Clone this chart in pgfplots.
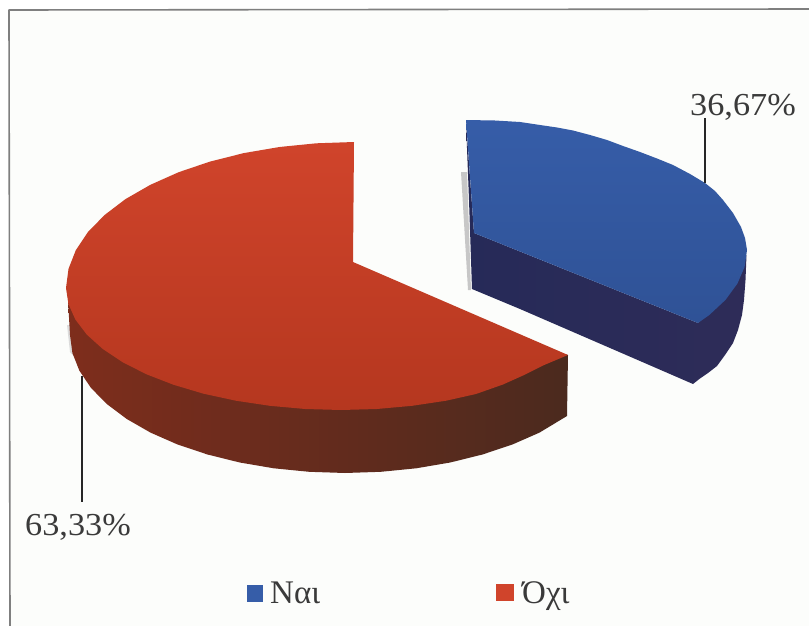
\documentclass[border=0pt]{standalone}
\usepackage{pgfplots}
\pgfplotsset{compat=1.18}
\usepackage{fontspec}
\setmainfont{Liberation Serif}
\definecolor{bgc}{HTML}{FCFDFB}
\definecolor{bord}{HTML}{7F7F7F}
\definecolor{redtopA}{HTML}{D0442B}
\definecolor{redtopB}{HTML}{B5371F}
\definecolor{redsideA}{HTML}{7E2D1C}
\definecolor{redsideB}{HTML}{4B2A1E}
\definecolor{bluetopA}{HTML}{365DA8}
\definecolor{bluetopB}{HTML}{2F5296}
\definecolor{bluesideA}{HTML}{262A58}
\definecolor{bluesideB}{HTML}{2E2C58}
\definecolor{txt}{HTML}{3A3A3A}
\begin{document}
\begin{tikzpicture}
\begin{axis}[
  hide axis, scale only axis, width=809pt, height=626pt,
  xmin=0, xmax=809, ymin=0, ymax=626, y dir=reverse, clip=true,
  every axis plot/.append style={line join=round}
]
% background and frame
\addplot[draw=none, fill=white, forget plot] coordinates {(0,0)(809,0)(809,626)(0,626)} --cycle;
\addplot[draw=none, fill=bgc, forget plot] coordinates {(9,10)(809,10)(809,626)(9,626)} --cycle;
\addplot[draw=bord, line width=1.6pt, forget plot] coordinates {(10,626)(9,10)(809,9)};
% soft shadows
\addplot[draw=none, fill=black!22!white, forget plot] coordinates {(461,172)(467,172)(471,290)(468,290)} --cycle;
\addplot[draw=none, fill=black!14!white, forget plot] coordinates {(67,325)(71,325)(76,358)(70,352)} --cycle;
% blue side
\addplot[draw=none, left color=bluesideA, right color=bluesideB, forget plot] coordinates {
(466,122)(469,200)(472,289)(520,309)(580,335)(640,361)(693,384)(700,378.5)(708,373)(717,366)(725,355)(733,343)(738,330)(742,315)(744,300)(745.5,280)(746.5,255)(698,323)(474,233)} --cycle;
% blue top
\addplot[draw=none, top color=bluetopA, bottom color=bluetopB, forget plot] coordinates {
(466,120)(495,120.5)(520,122)(540,125)(557,127.5)(573,130.5)(590,135)(607,140)(623,146)(640,152)(657,158.5)(673,165)(690,174)(705,183)(715,191)(723,200)(733,213)(741,227)(745,238)(747,250)(744.6,267)(737.4,283.6)(725.6,299.8)(709.3,315)(698,323)(474,233)} --cycle;
% red side
\addplot[draw=none, left color=redsideA, right color=redsideB, forget plot] coordinates {
(68,300)(70,335)(72.4,353)(79.4,370.7)(90.9,387.8)(106.8,404)(126.8,419)(150.5,432.6)(177.6,444.5)(207.5,454.5)(239.8,462.5)(273.8,468.3)(309.1,471.8)(345,473)(380.9,471.8)(416.2,468.3)(450.2,462.5)(482.5,454.5)(512.4,444.5)(539.5,432.6)(567,416)(568,355)(341,300)} --cycle;
% red top
\addplot[draw=none, top color=redtopA, bottom color=redtopB, forget plot] coordinates {
(354,142)(316.4,143.3)(279.5,147)(243.8,153.1)(210,161.6)(178.7,172.2)(150.4,184.8)(125.5,199.1)(104.6,215)(87.9,232.1)(75.8,250.2)(68.5,268.9)(66,288)(68.4,303.9)(75.4,319.6)(86.9,334.7)(102.8,349)(122.8,362.3)(146.5,374.3)(173.6,384.8)(203.5,393.7)(235.8,400.7)(269.8,405.8)(305.1,409)(341,410)(376.9,409)(412.2,405.8)(446.2,400.7)(476,394)(503,384.5)(523,375.5)(543,365.5)(568,355)(353,262)} --cycle;
% leader lines
\addplot[draw=black!85, line width=2.2pt, forget plot] coordinates {(705,118)(705,183)};
\addplot[draw=black!85, line width=2.2pt, forget plot] coordinates {(82,376)(82,502)};
% legend keys
\addplot[draw=none, fill=bluetopA, forget plot] coordinates {(247,585)(263,585)(263,602)(247,602)} --cycle;
\addplot[draw=none, fill=redtopA, forget plot] coordinates {(496,584)(514,584)(514,601)(496,601)} --cycle;
% labels
\node[anchor=base west, inner sep=0pt, font=\fontsize{32}{34}\selectfont, text=txt, xscale=1.07] at (axis cs:690,115) {36,67\%};
\node[anchor=base west, inner sep=0pt, font=\fontsize{32}{34}\selectfont, text=txt, xscale=1.07] at (axis cs:25,535) {63,33\%};
\node[anchor=base west, inner sep=0pt, font=\fontsize{33}{35}\selectfont, text=txt] at (axis cs:270,603) {Ναι};
\node[anchor=base west, inner sep=0pt, font=\fontsize{33}{35}\selectfont, text=txt] at (axis cs:522,603) {Όχι};
\end{axis}
\end{tikzpicture}
\end{document}
